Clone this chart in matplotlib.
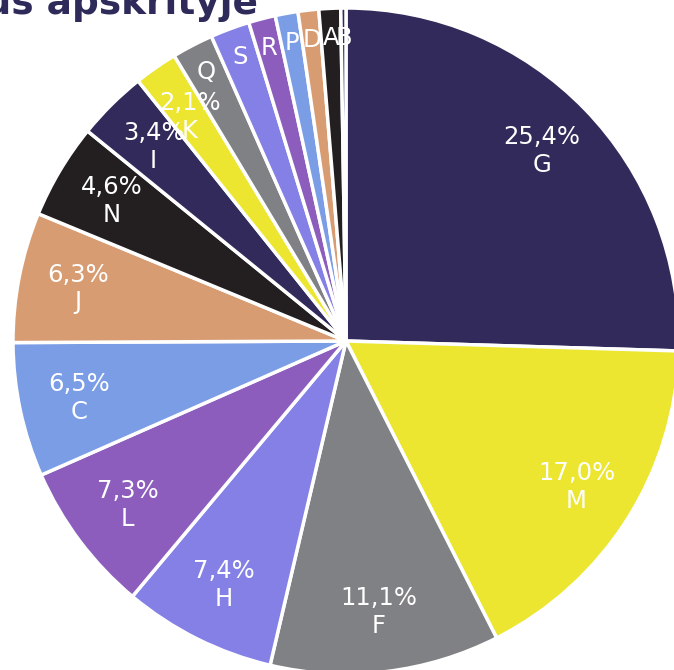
import numpy as np
import matplotlib
matplotlib.use("Agg")
import matplotlib.pyplot as plt

# --------------------------------------------------------------
# Data
# --------------------------------------------------------------
categories = ["G", "M", "F", "H", "L", "C", "J", "N", "I", "K",
              "Q", "S", "R", "P", "D", "A", "B"]
shares = [25.4, 17.0, 11.1, 7.4, 7.3, 6.5, 6.3, 4.6, 3.4, 2.1,
          2.0, 1.9, 1.3, 1.1, 1.0, 1.05, 0.25]
palette = ["#312a5a", "#ece630", "#808184", "#8480e6", "#8c5dbd",
           "#7b9de6", "#d89c72", "#231f20"]
title = "Vilniaus apskrityje"

colors = [palette[i % len(palette)] for i in range(len(categories))]

# --------------------------------------------------------------
# Figure
# --------------------------------------------------------------
fig = plt.figure(figsize=(6.74, 6.70), dpi=100)
ax = fig.add_axes([0, 0, 1, 1])

wedges, _ = ax.pie(shares, colors=colors, startangle=90, counterclock=False,
                   radius=1.0, labels=None,
                   wedgeprops=dict(edgecolor="white", linewidth=2.5))

total = sum(shares)
cum = 0.0
for cat, val in zip(categories, shares):
    mid = (cum + val / 2) / total * 2 * np.pi
    cum += val
    if val >= 2.05:
        r = 0.82
        txt = f"{val:.1f}".replace(".", ",") + "%\n" + cat
    else:
        r = 0.91
        txt = cat
    ax.text(r * np.sin(mid), r * np.cos(mid), txt, ha="center", va="center",
            color="white", fontsize=17.5, linespacing=1.2)

# title is cropped at the top-left in the source picture
ax.text(-0.264, (341 - 14) / 333, title, ha="right", va="baseline",
        fontsize=27, fontweight="bold", color="#2e2a5a")

ax.set_xlim(-346 / 333, (674 - 346) / 333)
ax.set_ylim(-(670 - 341) / 333, 341 / 333)
ax.set_aspect("auto")
ax.axis("off")

fig.savefig("out.png", dpi=100)
